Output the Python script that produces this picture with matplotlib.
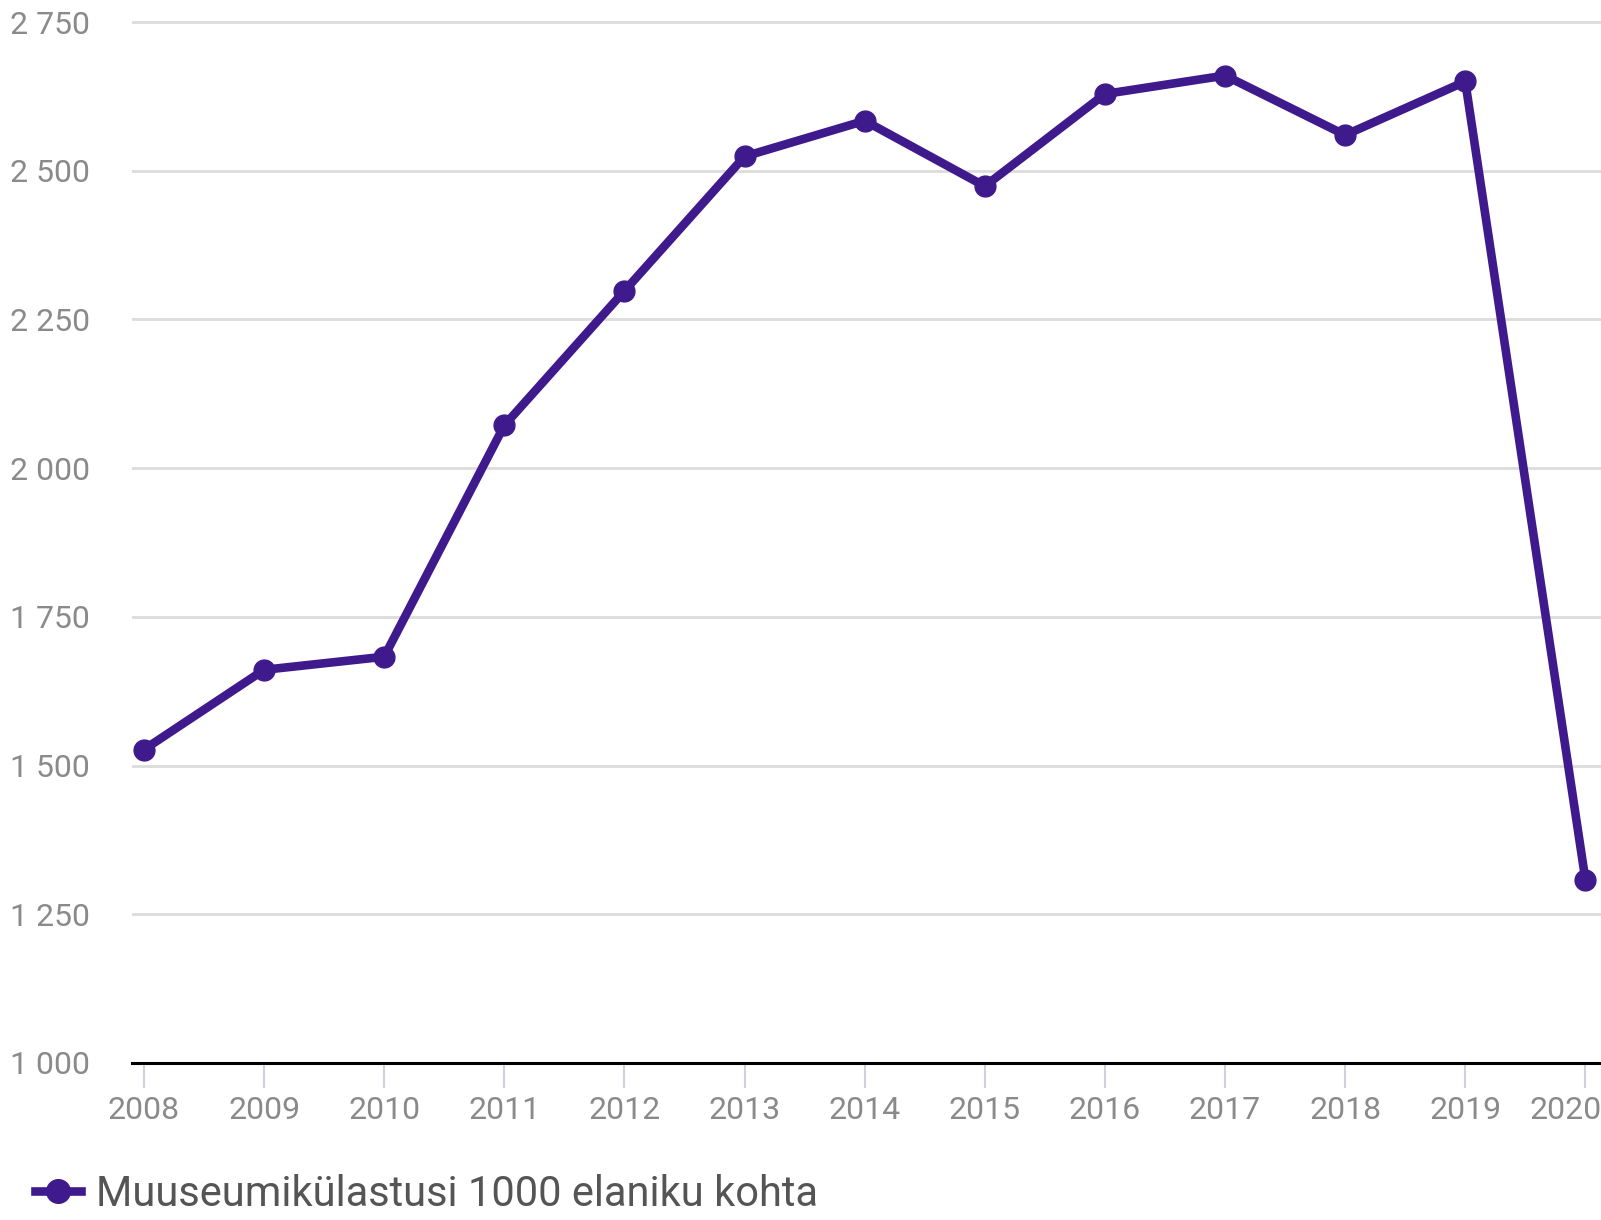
import matplotlib.pyplot as plt
import matplotlib.transforms as mtransforms
from matplotlib.lines import Line2D

plt.rcParams['font.family'] = ['Roboto', 'DejaVu Sans']

# data
years = [2008, 2009, 2010, 2011, 2012, 2013, 2014, 2015, 2016, 2017, 2018, 2019, 2020]
visits = [1527, 1661, 1683, 2072, 2298, 2524, 2584, 2474, 2629, 2660, 2560, 2650, 1308]
y_ticks = [1000, 1250, 1500, 1750, 2000, 2250, 2500, 2750]
series_name = "Muuseumikülastusi 1000 elaniku kohta"

line_color = '#3f1a8c'
tick_color = '#8a8a8a'

fig = plt.figure(figsize=(16.01, 12.2), dpi=100)
ax = fig.add_axes([132 / 1601, 1 - 1063 / 1220, 1 - 132 / 1601, 1063 / 1220])

ax.plot(years, visits, color=line_color, linewidth=6.2, marker='o', markersize=15,
        clip_on=False, zorder=3)

ax.set_xlim(2007.9, 2020.13)
ax.set_ylim(1000, 2787)

ax.set_yticks(y_ticks)
ax.set_yticklabels(["{:,}".format(v).replace(",", " ") for v in y_ticks])
ax.set_xticks(years)
ax.set_xticklabels([str(y) for y in years])

ax.grid(axis='y', color='#dcdcdc', linewidth=2)
ax.set_axisbelow(True)

for s in ['top', 'right', 'left']:
    ax.spines[s].set_visible(False)
ax.spines['bottom'].set_color('black')
ax.spines['bottom'].set_linewidth(2.2)
ax.spines['bottom'].set_zorder(4)

ax.tick_params(axis='y', length=0, pad=30, labelsize=23, labelcolor=tick_color)
ax.tick_params(axis='x', length=18, width=1.5, color='#d0d0dc', pad=6,
               labelsize=23, labelcolor=tick_color)
for lbl in ax.get_yticklabels():
    lbl.set_horizontalalignment('right')

# last year label sits flush with the right edge
last = ax.get_xticklabels()[-1]
last.set_horizontalalignment('right')
last.set_transform(last.get_transform() +
                   mtransforms.ScaledTranslation(16 / 100, 0, fig.dpi_scale_trans))

handle = Line2D([], [], color=line_color, linewidth=6.2, marker='o', markersize=17)
fig.legend([handle], [series_name], loc='center left', bbox_to_anchor=(0.0115, 0.021),
           frameon=False, fontsize=30, labelcolor='#555555', handlelength=1.1,
           handletextpad=0.36, borderaxespad=0)

plt.savefig("out.png", dpi=100)
